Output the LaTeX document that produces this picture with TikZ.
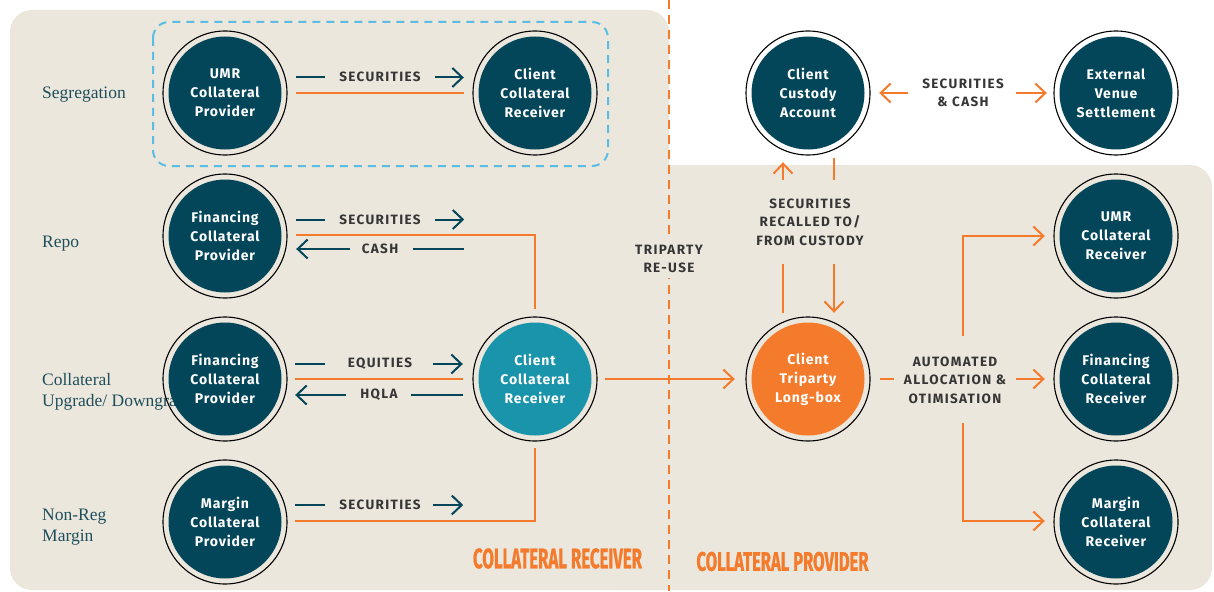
\documentclass[tikz,border=0pt]{standalone}
\usepackage{fontspec}
\usepackage{graphicx}
\setmainfont{Liberation Serif}
\newfontfamily\circfont[LetterSpace=6]{Fira Sans}
\newfontfamily\lblfont[LetterSpace=10]{Fira Sans}
\newfontfamily\ttlfont[FakeBold=1.2]{Fira Sans}
\usetikzlibrary{arrows.meta,calc}
\definecolor{panel}{HTML}{ECE7DC}
\definecolor{navy}{HTML}{03465A}
\definecolor{tealc}{HTML}{1A94AA}
\definecolor{orng}{HTML}{F47A2C}
\definecolor{txtgray}{HTML}{363636}
\definecolor{rowc}{HTML}{1E4E5C}
\definecolor{dashblue}{HTML}{5BBDE4}
\begin{document}
\begin{tikzpicture}[x=1pt,y=-1pt,
  >={Straight Barb[length=10pt,width=19pt]},
  circ/.style={circle, fill=navy, minimum size=113pt, inner sep=0pt, text=white, align=center,
    font=\circfont\bfseries\fontsize{14}{19}\selectfont},
  ring/.style={draw=black, line width=1.1pt},
  oline/.style={draw=orng, line width=2pt},
  nline/.style={draw=navy, line width=2pt},
  clbl/.style={text=txtgray, align=center, inner sep=0pt,
    font=\lblfont\bfseries\fontsize{13.5}{18.5}\selectfont},
  rowlbl/.style={text=rowc, anchor=base west, inner sep=0pt, font=\fontsize{17.5}{21}\selectfont},
  ttl/.style={text=orng, inner sep=0pt}]
\useasboundingbox (0,0) rectangle (1214,591);
\fill[white] (0,0) rectangle (1214,591);
% panels
\fill[panel, rounded corners=22pt] (10,10) rectangle (669,590);
\fill[panel, rounded corners=22pt] (600,165) rectangle (1212,590);
% segregation frame
\draw[dashblue, line width=2pt, dash pattern=on 8pt off 6pt, rounded corners=16pt] (153,22) rectangle (608,166);
% divider
\draw[orng, line width=2pt, dash pattern=on 9pt off 6pt] (669,0) -- (669,591);
% row labels
\node[rowlbl] (lseg) at (42,99) {Segregation};
\node[rowlbl] (lrepo) at (42,247) {Repo};
\node[rowlbl] (lcol1) at (42,385) {Collateral};
\node[rowlbl] (lcol2) at (42,406) {Upgrade/ Downgrade};
\node[rowlbl] (lnr1) at (42,520) {Non-Reg};
\node[rowlbl] (lnr2) at (42,541) {Margin};
% circles
\node[circ] (ucp) at (225,93) {UMR\\Collateral\\Provider};
\node[circ] (ccr1) at (535,93) {Client\\Collateral\\Receiver};
\node[circ] (fcp1) at (225,236) {Financing\\Collateral\\Provider};
\node[circ] (fcp2) at (225,379) {Financing\\Collateral\\Provider};
\node[circ, fill=tealc] (ccr2) at (535,379) {Client\\Collateral\\Receiver};
\node[circ] (mcp) at (225,522) {Margin\\Collateral\\Provider};
\node[circ] (cca) at (808,93) {Client\\Custody\\Account};
\node[circ] (evs) at (1116,93) {External\\Venue\\Settlement};
\node[circ, fill=orng] (ctl) at (808,379) {Client\\Triparty\\Long-box};
\node[circ] (ucr) at (1116,236) {UMR\\Collateral\\Receiver};
\node[circ] (fcr) at (1116,379) {Financing\\Collateral\\Receiver};
\node[circ] (mcr) at (1116,522) {Margin\\Collateral\\Receiver};
\foreach \n in {ucp,ccr1,fcp1,fcp2,ccr2,mcp,cca,evs,ctl,ucr,fcr,mcr}
  \draw[ring] (\n.center) circle[radius=62pt];
% connector labels
\node[clbl] (s1) at (380,77) {SECURITIES};
\node[clbl] (s2) at (380,220) {SECURITIES};
\node[clbl] (cash) at (380,249) {CASH};
\node[clbl] (eq) at (380,364) {EQUITIES};
\node[clbl] (hqla) at (379,395) {HQLA};
\node[clbl] (s4) at (380,505) {SECURITIES};
\node[clbl] (sc) at (963,93) {SECURITIES\\\& CASH};
\node[clbl] (rec) at (810,222) {SECURITIES\\RECALLED TO/\\FROM CUSTODY};
\node[clbl] (aut) at (955,380) {AUTOMATED\\ALLOCATION \&\\OTIMISATION};
\node[clbl, fill=panel, inner sep=5pt] (tri) at (669,259) {TRIPARTY\\RE-USE};
% row 1
\draw[nline] ($(ucp.east)+(14.5,-15.5)$) -- ($(ucp.east)+(43.5,-15.5)$);
\draw[nline,->] ($(ccr1.west)+(-43.5,-15.5)$) -- ($(ccr1.west)+(-14.5,-15.5)$);
\draw[oline] ($(ucp.east)+(14.5,0)$) -- ($(ccr1.west)+(-14.5,0)$);
% row 2
\draw[nline] ($(fcp1.east)+(14.5,-16.5)$) -- ($(fcp1.east)+(43.5,-16.5)$);
\draw[nline,->] ($(fcp1.east)+(153.5,-16.5)$) -- ($(fcp1.east)+(182.5,-16.5)$);
\draw[nline,->] ($(fcp1.east)+(68.5,13)$) -- ($(fcp1.east)+(14.5,13)$);
\draw[nline] ($(fcp1.east)+(131.5,13)$) -- ($(fcp1.east)+(182.5,13)$);
\draw[oline] ($(fcp1.east)+(14.5,-1)$) -- ($(ccr2.north |- fcp1.east)+(0,-1)$) -- ($(ccr2.north)+(0,-13.5)$);
% row 3
\draw[nline] ($(fcp2.east)+(13.5,-15)$) -- ($(fcp2.east)+(43.5,-15)$);
\draw[nline,->] ($(ccr2.west)+(-45.5,-15)$) -- ($(ccr2.west)+(-15.5,-15)$);
\draw[oline] ($(fcp2.east)+(13.5,0)$) -- ($(ccr2.west)+(-15.5,0)$);
\draw[nline,->] ($(fcp2.east)+(64.5,16)$) -- ($(fcp2.east)+(13.5,16)$);
\draw[nline] ($(ccr2.west)+(-67.5,16)$) -- ($(ccr2.west)+(-15.5,16)$);
% row 4
\draw[nline] ($(mcp.east)+(13.5,-17)$) -- ($(mcp.east)+(43.5,-17)$);
\draw[nline,->] ($(mcp.east)+(151.5,-17)$) -- ($(mcp.east)+(181.5,-17)$);
\draw[oline] ($(mcp.east)+(13.5,-1)$) -- ($(ccr2.south |- mcp.east)+(0,-1)$) -- ($(ccr2.south)+(0,12.5)$);
% to triparty
\draw[oline,->] ($(ccr2.east)+(13.5,0)$) -- ($(ctl.west)+(-16.5,0)$);
% custody <-> external
\draw[oline,->] ($(cca.east)+(43.5,0)$) -- ($(cca.east)+(14.5,0)$);
\draw[oline,->] ($(evs.west)+(-43.5,0)$) -- ($(evs.west)+(-12.5,0)$);
% custody <-> triparty
\draw[oline] ($(ctl.north)+(-25,-9.5)$) -- ($(ctl.north)+(-25,-58.5)$);
\draw[oline,->] ($(cca.south)+(-25,30.5)$) -- ($(cca.south)+(-25,12.5)$);
\draw[oline] ($(cca.south)+(26,8.5)$) -- ($(cca.south)+(26,30.5)$);
\draw[oline,->] ($(ctl.north)+(26,-58.5)$) -- ($(ctl.north)+(26,-9.5)$);
% allocation
\coordinate (vup) at (963,336);
\coordinate (vdn) at (963,423);
\draw[oline] ($(ctl.east)+(15.5,0)$) -- ($(ctl.east)+(29.5,0)$);
\draw[oline,->] ($(fcr.west)+(-43.5,0)$) -- ($(fcr.west)+(-14.5,0)$);
\draw[oline,->] (vup) |- ($(ucr.west)+(-14.5,0)$);
\draw[oline,->] (vdn) |- ($(mcr.west)+(-14.5,-1)$);
% titles
\node[ttl] (tcr) at (557.5,558.5) {\resizebox{169pt}{20pt}{\ttlfont\bfseries COLLATERAL RECEIVER}};
\node[ttl] (tcp) at (782.5,561.5) {\resizebox{172pt}{19pt}{\ttlfont\bfseries COLLATERAL PROVIDER}};
\end{tikzpicture}
\end{document}
